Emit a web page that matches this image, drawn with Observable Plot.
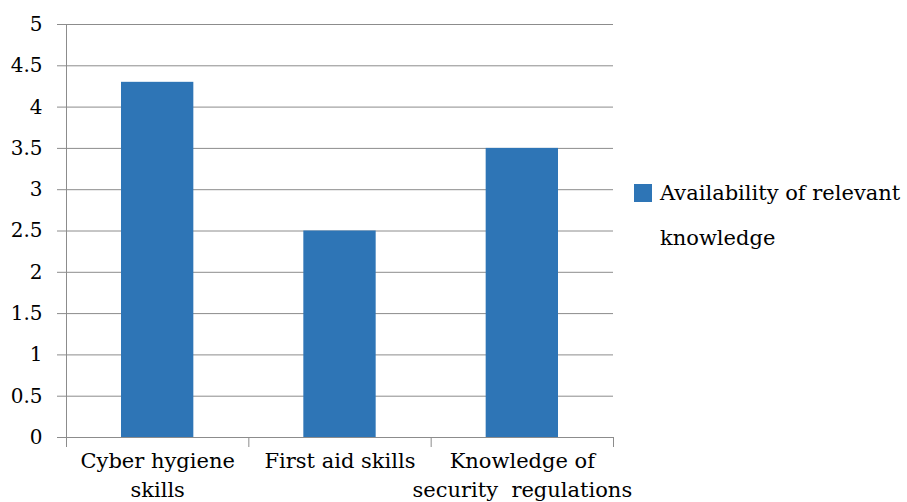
<!DOCTYPE html>
<html>
<head>
<meta charset="utf-8">
<script src="https://cdn.jsdelivr.net/npm/d3@7"></script>
<script src="https://cdn.jsdelivr.net/npm/@observablehq/plot@0.6"></script>
<style>
  html, body { margin: 0; padding: 0; background: #fff; }
  #wrap { position: relative; width: 907px; height: 502px; overflow: hidden; }
  #legend { position: absolute; left: 634px; top: 171px; font-family: "DejaVu Serif", serif; font-size: 21px; color: #000; line-height: 45px; white-space: nowrap; }
  #legend .sw { display: inline-block; width: 18px; height: 18px; background: #2E75B6; margin-right: 8px; vertical-align: -2px; }
  #legend .l2 { padding-left: 26px; }
</style>
</head>
<body>
<div id="wrap"><div id="legend"><div><span class="sw"></span>Availability of relevant</div><div class="l2">knowledge</div></div></div>
<script>
const categories = ["Cyber hygiene\nskills", "First aid skills", "Knowledge of\nsecurity  regulations"];
const values = [4.3, 2.5, 3.5];
const yTicks = [0, 0.5, 1, 1.5, 2, 2.5, 3, 3.5, 4, 4.5, 5];
const xBoundaries = [0, 1, 2, 3];

const data = categories.map((c, i) => ({i, c, v: values[i]}));
const gray = "#8c8c8c";

const chart = Plot.plot({
  width: 907,
  height: 502,
  marginLeft: 66,
  marginRight: 294,
  marginTop: 24,
  marginBottom: 65,
  style: {fontFamily: "DejaVu Serif, serif", fontSize: "20px", color: "#000", background: "transparent", overflow: "visible"},
  x: {domain: [0, 3]},
  y: {domain: [0, 5]},
  marks: [
    Plot.gridY(yTicks, {stroke: gray, strokeOpacity: 1}),
    Plot.axisY({ticks: yTicks, tickSize: 9, tickPadding: 15, stroke: gray, fill: "#000", fontSize: 20, tickFormat: d => String(d), label: null}),
    Plot.rectY(data, {x1: d => d.i, x2: d => d.i + 1, y: "v", fill: "#2E75B6", insetLeft: 55, insetRight: 55}),
    Plot.ruleX([0], {stroke: gray}),
    Plot.ruleY([0], {stroke: gray}),
    Plot.axisX({ticks: xBoundaries, tickSize: 10, stroke: gray, tickFormat: () => "", label: null}),
    Plot.text(data, {x: d => d.i + 0.5, y: 0, text: "c", lineAnchor: "top", dy: 10, lineHeight: 1.38, fontSize: 21, fill: "#000"})
  ]
});
document.getElementById("wrap").prepend(chart);
</script>
</body>
</html>
